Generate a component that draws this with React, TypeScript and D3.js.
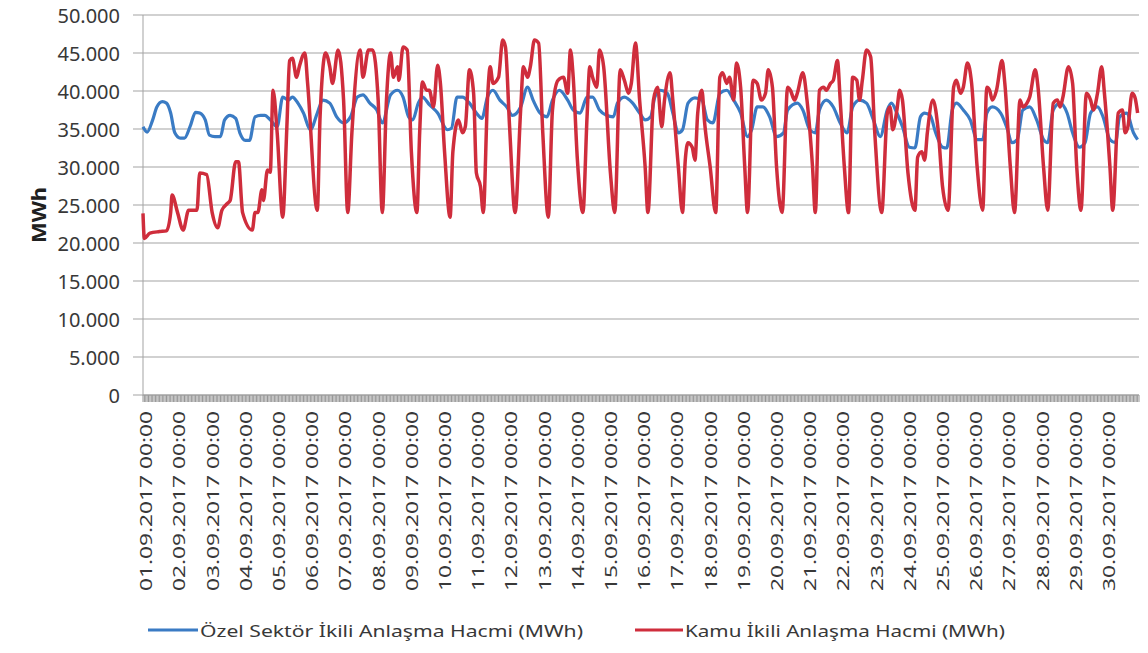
import React from "react";
import * as d3 from "d3";

// ---- Data (hour index since 01.09.2017 00:00, MWh) ----
const ozelPoints: [number, number][] = [
  [0, 35300], [3, 34600], [7, 36200], [10, 37900], [14, 38600], [17, 38400], [20, 37100], [23, 34500],
  [27, 33800], [30, 33800], [34, 35300], [38, 37200], [41, 37100], [45, 36200], [48, 34200], [52, 34000],
  [56, 34000], [59, 36200], [63, 36800], [67, 36400], [70, 34500], [74, 33500], [77, 33500], [81, 36600],
  [85, 36800], [88, 36800], [92, 36200], [97, 35300], [101, 39200], [105, 38800], [108, 39200], [112, 38400],
  [116, 37100], [121, 34900], [126, 37100], [130, 38800], [135, 38400], [140, 36600], [145, 35800], [150, 36600],
  [155, 39200], [159, 39500], [164, 38400], [169, 37500], [173, 35800], [179, 39500], [184, 40100], [188, 39200],
  [192, 36600], [195, 36200], [199, 38400], [202, 39200], [207, 38200], [213, 37100], [220, 34900], [223, 35100],
  [227, 39200], [231, 39200], [236, 38400], [241, 37100], [245, 36400], [249, 39200], [253, 40100], [258, 38800],
  [263, 37900], [267, 36800], [273, 37900], [278, 40500], [282, 38800], [287, 37100], [292, 36600], [296, 38800],
  [301, 40100], [307, 38800], [311, 37500], [316, 37100], [321, 39200], [325, 39200], [330, 37500], [335, 36800],
  [340, 36600], [343, 38400], [348, 39200], [354, 38400], [359, 37100], [363, 36200], [367, 36600], [370, 39200],
  [374, 40100], [379, 39700], [383, 37100], [387, 34500], [390, 34900], [394, 38400], [399, 39100], [404, 38800],
  [408, 36200], [412, 35800], [417, 39700], [422, 40100], [427, 38800], [432, 37100], [437, 34000], [440, 34900],
  [444, 37900], [448, 37900], [453, 36600], [458, 34000], [463, 34500], [466, 37500], [473, 38400], [477, 37500],
  [482, 34900], [486, 34500], [489, 37500], [494, 38800], [499, 37900], [504, 35800], [509, 34500], [513, 37900],
  [518, 38800], [523, 38400], [528, 36200], [533, 34000], [538, 37500], [541, 38400], [545, 37100], [549, 35300],
  [554, 32600], [558, 32500], [562, 36600], [565, 37100], [569, 36800], [573, 34500], [578, 32600], [581, 32500],
  [585, 37500], [588, 38400], [593, 37500], [598, 36200], [603, 33600], [607, 33600], [610, 37100], [614, 37900],
  [620, 37100], [625, 34900], [628, 33200], [632, 33600], [636, 37500], [641, 37900], [646, 36200], [651, 33600],
  [654, 33200], [658, 37500], [663, 38400], [668, 37100], [672, 34500], [677, 32600], [681, 33200], [685, 37100],
  [690, 37900], [694, 36600], [699, 33600], [703, 33200], [706, 36600], [711, 37100], [716, 34500], [719, 33600],
];

const kamuPoints: [number, number][] = [
  [0, 23900], [1, 20600], [5, 21300], [12, 21500], [17, 21600], [20, 24000], [21, 26300], [25, 24000],
  [29, 21700], [33, 24300], [39, 24300], [41, 29200], [46, 29000], [50, 24000], [54, 22000], [57, 24300],
  [61, 25200], [63, 25600], [67, 30700], [69, 30700], [72, 24000], [79, 21700], [81, 24000], [83, 24000],
  [86, 27000], [87, 25600], [90, 29600], [92, 29300], [94, 40100], [97, 34500], [101, 23400], [104, 35300],
  [106, 44000], [108, 44300], [111, 41800], [113, 43200], [117, 45000], [119, 41000], [126, 24300], [128, 36600],
  [132, 45000], [135, 43200], [137, 41000], [141, 45400], [145, 38800], [148, 24000], [151, 34500], [157, 45400],
  [159, 41800], [163, 45400], [166, 45400], [170, 38800], [173, 24000], [176, 38800], [179, 45000], [181, 41800],
  [184, 43200], [185, 41400], [188, 45800], [191, 45400], [194, 32000], [198, 24000], [200, 34500], [202, 41200],
  [205, 40100], [207, 40100], [210, 37900], [213, 43400], [215, 41000], [218, 32000], [222, 23400], [224, 32000],
  [228, 36200], [231, 34500], [233, 35300], [236, 42800], [239, 39700], [241, 29200], [244, 27400], [246, 24000],
  [249, 38800], [251, 43200], [253, 41000], [257, 41800], [260, 46700], [262, 45800], [265, 35300], [269, 24000],
  [273, 37500], [275, 43200], [278, 41800], [280, 43200], [283, 46700], [286, 46300], [289, 34500], [293, 23400],
  [296, 37500], [300, 41400], [304, 41800], [307, 39700], [309, 45400], [311, 41800], [314, 31000], [318, 24000],
  [321, 36600], [323, 43200], [325, 41800], [328, 40500], [330, 45400], [333, 43200], [338, 29000], [341, 24000],
  [345, 42800], [348, 41400], [351, 39700], [353, 41000], [356, 46300], [359, 38800], [363, 30000], [365, 24000],
  [369, 38800], [372, 40500], [375, 35300], [377, 38800], [381, 42400], [383, 38800], [387, 30000], [390, 24000],
  [392, 30900], [394, 33200], [397, 32600], [399, 30900], [401, 37100], [404, 40100], [406, 35800], [410, 30000],
  [414, 24000], [417, 41800], [419, 42400], [422, 41000], [424, 41800], [427, 38800], [429, 43700], [432, 40500],
  [435, 30000], [437, 24000], [441, 41400], [444, 41000], [447, 38800], [450, 39700], [452, 42800], [455, 40500],
  [458, 30000], [462, 24000], [466, 40500], [468, 40100], [471, 38800], [473, 39700], [477, 42400], [480, 38800],
  [484, 30000], [486, 24000], [489, 40100], [492, 40500], [494, 40100], [497, 41000], [499, 41400], [502, 44000],
  [504, 38800], [507, 30000], [510, 24000], [513, 41800], [516, 41400], [518, 38800], [520, 41400], [523, 45400],
  [526, 44500], [529, 34500], [534, 24000], [538, 37000], [540, 37900], [542, 34900], [545, 37500], [547, 40100],
  [549, 38800], [553, 29200], [558, 24300], [560, 31300], [563, 32000], [565, 30900], [567, 34500], [571, 38800],
  [575, 34500], [578, 27400], [582, 24300], [586, 40500], [588, 41400], [591, 39700], [593, 40500], [596, 43700],
  [599, 41000], [603, 30000], [607, 24300], [610, 40500], [612, 40100], [614, 38800], [617, 40100], [621, 44000],
  [623, 41000], [627, 30000], [630, 24000], [634, 38800], [636, 37900], [639, 38400], [641, 39200], [645, 42800],
  [647, 40500], [651, 30000], [654, 24300], [658, 38400], [661, 38800], [663, 37900], [665, 39200], [669, 43200],
  [672, 41000], [675, 30000], [678, 24300], [682, 39700], [685, 38800], [687, 37500], [690, 39700], [693, 43200],
  [695, 39700], [699, 30000], [701, 24300], [705, 37100], [708, 37500], [710, 34500], [712, 35300], [715, 39700],
  [717, 39200], [719, 37100],
];

const yTickValues = [0, 5000, 10000, 15000, 20000, 25000, 30000, 35000, 40000, 45000, 50000];

const dayLabels = [
  "01.09.2017 00:00", "02.09.2017 00:00", "03.09.2017 00:00", "04.09.2017 00:00", "05.09.2017 00:00",
  "06.09.2017 00:00", "07.09.2017 00:00", "08.09.2017 00:00", "09.09.2017 00:00", "10.09.2017 00:00",
  "11.09.2017 00:00", "12.09.2017 00:00", "13.09.2017 00:00", "14.09.2017 00:00", "15.09.2017 00:00",
  "16.09.2017 00:00", "17.09.2017 00:00", "18.09.2017 00:00", "19.09.2017 00:00", "20.09.2017 00:00",
  "21.09.2017 00:00", "22.09.2017 00:00", "23.09.2017 00:00", "24.09.2017 00:00", "25.09.2017 00:00",
  "26.09.2017 00:00", "27.09.2017 00:00", "28.09.2017 00:00", "29.09.2017 00:00", "30.09.2017 00:00",
];

const seriesNames = ["Özel Sektör İkili Anlaşma Hacmi (MWh)", "Kamu İkili Anlaşma Hacmi (MWh)"];
const seriesColors = ["#3a7bc4", "#cf2d3c"];
const totalHours = 720;

const trLocale = d3.formatLocale({ decimal: ",", thousands: ".", grouping: [3], currency: ["", ""] });
const fmt = trLocale.format(",");

export default function App() {
  const W = 1148;
  const H = 653;
  const left = 143;
  const right = 1139;
  const top = 15;
  const bottom = 395;

  const x = d3.scaleLinear().domain([0, totalHours]).range([left, right]);
  const y = d3.scaleLinear().domain([0, 50000]).range([bottom, top]);

  const line = d3
    .line<[number, number]>()
    .x((d) => x(d[0]))
    .y((d) => y(d[1]))
    .curve(d3.curveMonotoneX);

  const font = "'Noto Sans', 'Open Sans', sans-serif";
  const textColor = "#383838";
  const gridColor = "#a3a3a3";

  const hourTicks = d3.range(0, totalHours + 1);

  return (
    <svg
      width={W}
      height={H}
      style={{ position: "absolute", left: 0, top: 0, background: "#ffffff" }}
      fontFamily={font}
    >
      <rect x={0} y={0} width={W} height={H} fill="#ffffff" />
      {/* gridlines */}
      {yTickValues.map((v) => (
        <line key={"g" + v} x1={133} x2={right} y1={y(v)} y2={y(v)} stroke={gridColor} strokeWidth={1} />
      ))}
      {/* y axis */}
      <line x1={left} x2={left} y1={top} y2={bottom} stroke={gridColor} strokeWidth={1} />
      {yTickValues.map((v) => (
        <text
          key={"yl" + v}
          x={120}
          y={y(v)}
          textAnchor="end"
          dominantBaseline="central"
          fontSize={20}
          fill={textColor}
        >
          {fmt(v)}
        </text>
      ))}
      <text
        transform={`translate(38, ${(top + bottom) / 2 + 10}) rotate(-90)`}
        textAnchor="middle"
        dominantBaseline="central"
        fontSize={20}
        fontWeight="bold"
        fill="#202020"
        textLength={56}
        lengthAdjust="spacingAndGlyphs"
      >
        MWh
      </text>
      {/* x axis with dense hourly ticks */}
      {hourTicks.map((h) => (
        <line key={"t" + h} x1={x(h)} x2={x(h)} y1={bottom} y2={bottom + 7} stroke="#8a8a8a" strokeWidth={0.9} />
      ))}
      <line x1={left} x2={right} y1={bottom} y2={bottom} stroke={gridColor} strokeWidth={1} />
      {dayLabels.map((lab, i) => (
        <text
          key={"xl" + i}
          transform={`translate(${x(i * 24 + 0.5) + 2}, 411) rotate(-90)`}
          textAnchor="end"
          dominantBaseline="central"
          fontSize={17}
          fill={textColor}
          textLength={180}
          lengthAdjust="spacingAndGlyphs"
        >
          {lab}
        </text>
      ))}
      {/* series */}
      <path d={line(ozelPoints) || ""} fill="none" stroke={seriesColors[0]} strokeWidth={3.2} strokeLinejoin="round" />
      <path d={line(kamuPoints) || ""} fill="none" stroke={seriesColors[1]} strokeWidth={3.5} strokeLinejoin="round" />
      {/* legend */}
      <line x1={148} x2={198} y1={630} y2={630} stroke={seriesColors[0]} strokeWidth={3} />
      <text
        x={200}
        y={630}
        dominantBaseline="central"
        fontSize={17}
        fill={textColor}
        textLength={383}
        lengthAdjust="spacingAndGlyphs"
      >
        {seriesNames[0]}
      </text>
      <line x1={635} x2={683} y1={630} y2={630} stroke={seriesColors[1]} strokeWidth={3} />
      <text
        x={685}
        y={630}
        dominantBaseline="central"
        fontSize={17}
        fill={textColor}
        textLength={320}
        lengthAdjust="spacingAndGlyphs"
      >
        {seriesNames[1]}
      </text>
    </svg>
  );
}
